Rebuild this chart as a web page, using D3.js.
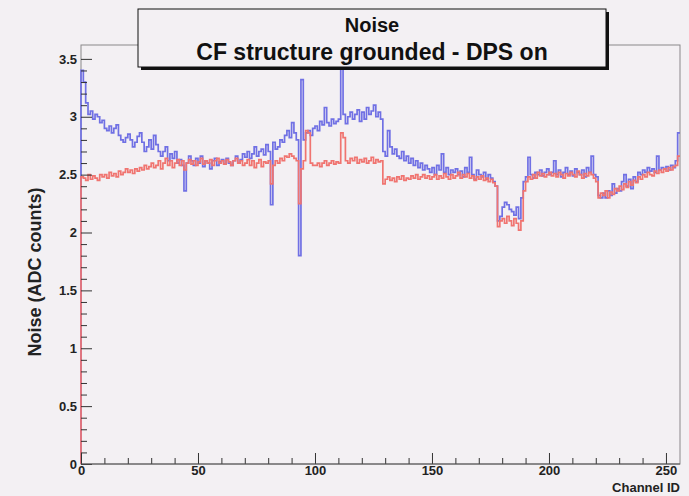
<!DOCTYPE html>
<html>
<head>
<meta charset="utf-8">
<script src="https://cdn.jsdelivr.net/npm/d3@7"></script>
<style>
  body { margin: 0; background: #f3f0f3; }
  svg { display: block; font-family: "Liberation Sans", Arial, sans-serif; font-weight: bold; }
</style>
</head>
<body>
<div class="drawingArea"></div>
<script>
// noise per channel (ADC counts)
var blueNoise = [
  3.40, 3.30, 3.12, 3.02, 3.05, 2.98, 3.02, 3.00, 2.95, 2.97,
  2.90, 2.88, 2.92, 2.86, 2.90, 2.93, 2.84, 2.80, 2.78, 2.82,
  2.85, 2.80, 2.74, 2.78, 2.83, 2.86, 2.78, 2.70, 2.74, 2.80,
  2.72, 2.84, 2.76, 2.70, 2.66, 2.70, 2.74, 2.62, 2.68, 2.64,
  2.70, 2.60, 2.63, 2.58, 2.36, 2.60, 2.66, 2.62, 2.58, 2.64,
  2.60, 2.66, 2.57, 2.62, 2.60, 2.55, 2.62, 2.64, 2.58, 2.61,
  2.63, 2.59, 2.64, 2.60, 2.58, 2.62, 2.66, 2.60, 2.63, 2.68,
  2.65, 2.70, 2.64, 2.68, 2.74, 2.66, 2.70, 2.72, 2.67, 2.76,
  2.70, 2.24, 2.78, 2.72, 2.74, 2.80, 2.78, 2.84, 2.88, 2.82,
  2.95, 2.86, 2.80, 1.80, 3.32, 2.80, 2.86, 2.88, 2.84, 2.90,
  2.92, 2.88, 2.96, 2.93, 3.08, 2.95, 2.92, 2.98, 2.94, 2.96,
  2.98, 3.52, 3.02, 2.94, 3.00, 3.04, 2.98, 3.02, 3.06, 2.96,
  3.04, 2.98, 3.08, 3.02, 3.05, 3.10, 3.00, 3.04, 2.98, 2.70,
  2.66, 2.88, 2.74, 2.68, 2.72, 2.66, 2.64, 2.70, 2.62, 2.66,
  2.60, 2.64, 2.58, 2.62, 2.56, 2.60, 2.54, 2.58, 2.55, 2.52,
  2.56, 2.50, 2.58, 2.54, 2.68, 2.52, 2.56, 2.50, 2.54, 2.52,
  2.55, 2.50, 2.53, 2.48, 2.56, 2.52, 2.65, 2.50, 2.46, 2.54,
  2.50, 2.48, 2.52, 2.46, 2.50, 2.47, 2.44, 2.40, 2.10, 2.14,
  2.22, 2.26, 2.24, 2.20, 2.18, 2.15, 2.22, 2.12, 2.30, 2.44,
  2.48, 2.65, 2.50, 2.47, 2.52, 2.50, 2.54, 2.49, 2.52, 2.55,
  2.50, 2.52, 2.62, 2.50, 2.54, 2.48, 2.52, 2.56, 2.50, 2.53,
  2.49, 2.55, 2.52, 2.50, 2.54, 2.48, 2.56, 2.52, 2.66, 2.50,
  2.48, 2.32, 2.30, 2.34, 2.30, 2.36, 2.32, 2.42, 2.34, 2.38,
  2.36, 2.44, 2.50, 2.40, 2.46, 2.38, 2.48, 2.44, 2.52, 2.50,
  2.54, 2.52, 2.56, 2.53, 2.55, 2.52, 2.66, 2.54, 2.56, 2.55,
  2.57, 2.54, 2.58, 2.56, 2.62, 2.86
];

var redNoise = [
  2.48, 2.47, 2.45, 2.50, 2.46, 2.49, 2.47, 2.45, 2.50, 2.48,
  2.50, 2.47, 2.52, 2.49, 2.51, 2.48, 2.53, 2.50, 2.52, 2.55,
  2.52, 2.54, 2.51, 2.55, 2.53, 2.56, 2.54, 2.58, 2.55, 2.57,
  2.60, 2.56, 2.58, 2.62, 2.55, 2.60, 2.64, 2.58, 2.62, 2.56,
  2.60, 2.63, 2.58, 2.62, 2.54, 2.60, 2.63, 2.59, 2.62, 2.58,
  2.61, 2.64, 2.59, 2.62, 2.60, 2.63, 2.58, 2.62, 2.64, 2.60,
  2.62, 2.59, 2.63, 2.61, 2.58, 2.62, 2.64, 2.60, 2.62, 2.58,
  2.60, 2.63, 2.58, 2.62, 2.56, 2.60, 2.63, 2.57, 2.61, 2.60,
  2.62, 2.42, 2.58, 2.62, 2.60, 2.64, 2.62, 2.66, 2.65, 2.68,
  2.66, 2.64, 2.62, 2.25, 2.55, 2.62, 2.88, 2.86, 2.60, 2.58,
  2.58, 2.60, 2.57, 2.60, 2.62, 2.58, 2.60, 2.62, 2.59, 2.61,
  2.60, 2.86, 2.82, 2.62, 2.60, 2.64, 2.62, 2.65, 2.60, 2.63,
  2.61, 2.64, 2.60, 2.62, 2.65, 2.60, 2.63, 2.61, 2.62, 2.42,
  2.46, 2.48, 2.45, 2.47, 2.44, 2.48, 2.46, 2.49, 2.45, 2.47,
  2.46, 2.49, 2.47, 2.50, 2.46, 2.48, 2.50, 2.47, 2.49, 2.46,
  2.48, 2.50, 2.46, 2.49, 2.47, 2.51, 2.48, 2.46, 2.50, 2.47,
  2.49, 2.52, 2.47, 2.50, 2.48, 2.51, 2.47, 2.49, 2.45, 2.48,
  2.46, 2.49, 2.45, 2.47, 2.44, 2.46, 2.43, 2.40, 2.05, 2.10,
  2.12, 2.08, 2.14, 2.10, 2.06, 2.12, 2.08, 2.02, 2.10, 2.36,
  2.44, 2.48, 2.46, 2.50, 2.47, 2.52, 2.49, 2.51, 2.48, 2.50,
  2.52, 2.49, 2.51, 2.48, 2.52, 2.50, 2.47, 2.51, 2.49, 2.52,
  2.50, 2.48, 2.53, 2.50, 2.47, 2.51, 2.49, 2.52, 2.50, 2.47,
  2.44, 2.30, 2.34, 2.32, 2.36, 2.30, 2.35, 2.33, 2.38, 2.36,
  2.40, 2.37, 2.42, 2.39, 2.44, 2.41, 2.45, 2.43, 2.48, 2.46,
  2.50, 2.48, 2.52, 2.50, 2.49, 2.53, 2.51, 2.54, 2.52, 2.55,
  2.53, 2.56, 2.54, 2.57, 2.58, 2.66
];

var xTicks = [0, 50, 100, 150, 200, 250];
var yTicks = [0, 0.5, 1, 1.5, 2, 2.5, 3, 3.5];
var titleLines = ["Noise", "CF structure grounded - DPS on"];

var width = 689;
var height = 496;
var frame = { left: 81, right: 680, top: 45, bottom: 464 };
var bg = "#f3f0f3";

var svg = d3.select(".drawingArea")
    .append("svg")
    .attr("width", width)
    .attr("height", height);

svg.append("rect")
    .attr("width", width)
    .attr("height", height)
    .attr("fill", bg);

var x = d3.scaleLinear().domain([0, 256]).range([frame.left, frame.right]);
var y = d3.scaleLinear().domain([0, 3.62]).range([frame.bottom, frame.top]);

// frame
svg.append("rect")
    .attr("x", frame.left)
    .attr("y", frame.top)
    .attr("width", frame.right - frame.left)
    .attr("height", frame.bottom - frame.top)
    .attr("fill", "none")
    .attr("stroke", "#8a878a")
    .attr("stroke-width", 1);

// histogram outline, rises from the baseline at the left edge like ROOT does
function histPoints(vals) {
    var pts = [[0, 0]];
    vals.forEach(function(v, i) { pts.push([i, v]); });
    pts.push([vals.length, vals[vals.length - 1]]);
    return pts;
}

var stepLine = d3.line()
    .x(function(d) { return x(d[0]); })
    .y(function(d) { return y(d[1]); })
    .curve(d3.curveStepAfter);

svg.append("path")
    .attr("d", stepLine(histPoints(blueNoise)))
    .attr("fill", "none")
    .attr("stroke", "#7070e4")
    .attr("stroke-width", 1.7);

svg.append("path")
    .attr("d", stepLine(histPoints(redNoise)))
    .attr("fill", "none")
    .attr("stroke", "#f07470")
    .attr("stroke-width", 1.7);

// axes - ticks point into the frame
var minorX = d3.range(0, 257, 10).filter(function(v) { return v % 50 != 0; });
var minorY = d3.range(1, 36).map(function(v) { return v / 10; }).filter(function(v) { return Math.round(v * 10) % 5 != 0; });

svg.append("g")
    .attr("transform", "translate(0," + frame.bottom + ")")
    .call(d3.axisBottom(x).tickValues(xTicks).tickSize(-11).tickPadding(2).tickFormat(d3.format("d")));
svg.append("g")
    .attr("transform", "translate(0," + frame.bottom + ")")
    .call(d3.axisBottom(x).tickValues(minorX).tickSize(-6).tickFormat(""));

svg.append("g")
    .attr("transform", "translate(" + frame.left + ",0)")
    .call(d3.axisLeft(y).tickValues(yTicks).tickSize(-11).tickPadding(4).tickFormat(function(d) { return d; }));
svg.append("g")
    .attr("transform", "translate(" + frame.left + ",0)")
    .call(d3.axisLeft(y).tickValues(minorY).tickSize(-6).tickFormat(""));

svg.selectAll(".domain").attr("stroke", "none");
svg.selectAll(".tick line").attr("stroke", "#333");
svg.selectAll(".tick text")
    .attr("font-family", "Liberation Sans, Arial, sans-serif")
    .attr("font-weight", "bold")
    .attr("font-size", 13)
    .attr("fill", "#222");

// axis line at the bottom
svg.append("line")
    .attr("x1", frame.left).attr("x2", frame.right)
    .attr("y1", frame.bottom).attr("y2", frame.bottom)
    .attr("stroke", "#555");

// axis titles
svg.append("text")
    .attr("x", frame.right)
    .attr("y", 492)
    .attr("text-anchor", "end")
    .attr("font-size", 13)
    .attr("fill", "#222")
    .text("Channel ID");

svg.append("text")
    .attr("transform", "translate(41,272) rotate(-90)")
    .attr("text-anchor", "middle")
    .attr("font-size", 18)
    .attr("fill", "#222")
    .text("Noise (ADC counts)");

// title box with shadow
var box = { x: 138, y: 9, w: 468, h: 58 };
svg.append("rect")
    .attr("x", box.x + 3).attr("y", box.y + 3)
    .attr("width", box.w).attr("height", box.h)
    .attr("fill", "#111");
svg.append("rect")
    .attr("x", box.x).attr("y", box.y)
    .attr("width", box.w).attr("height", box.h)
    .attr("fill", bg)
    .attr("stroke", "#111")
    .attr("stroke-width", 1);

svg.selectAll(".title")
    .data(titleLines)
    .enter()
    .append("text")
    .attr("class", "title")
    .attr("x", box.x + box.w / 2)
    .attr("y", function(d, i) { return box.y + 23 + i * 28; })
    .attr("text-anchor", "middle")
    .attr("font-size", function(d, i) { return i == 0 ? 20 : 23; })
    .attr("fill", "#111")
    .text(function(d) { return d; });
</script>
</body>
</html>
